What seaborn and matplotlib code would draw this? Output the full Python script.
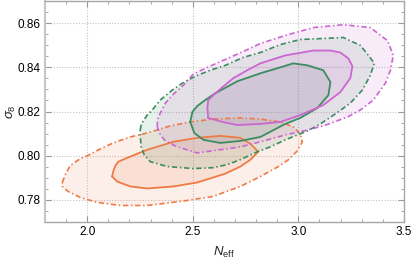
import numpy as np
import matplotlib
matplotlib.use("Agg")
import matplotlib.pyplot as plt
import seaborn as sns
from matplotlib.ticker import MultipleLocator

# contour vertices (N_eff, sigma_8)
orange95_x = [1.882, 1.896, 1.919, 1.967, 2.000, 2.062, 2.123, 2.204, 2.284, 2.393, 2.488, 2.597, 2.725, 2.820,
              2.915, 2.976, 3.009, 3.019, 2.995, 2.953, 2.905, 2.820, 2.725, 2.597, 2.441, 2.284, 2.156, 2.047,
              1.967, 1.910, 1.882]
orange95_y = [0.7879, 0.7915, 0.7955, 0.7987, 0.8000, 0.8031, 0.8058, 0.8085, 0.8103, 0.8135, 0.8153, 0.8166,
              0.8171, 0.8166, 0.8153, 0.8130, 0.8099, 0.8063, 0.8022, 0.7982, 0.7951, 0.7906, 0.7861, 0.7816,
              0.7793, 0.7775, 0.7775, 0.7789, 0.7811, 0.7838, 0.7861]
orange68_x = [2.118, 2.123, 2.133, 2.147, 2.190, 2.284, 2.408, 2.521, 2.630, 2.725, 2.773, 2.810, 2.773, 2.725,
              2.654, 2.521, 2.408, 2.284, 2.204, 2.142]
orange68_y = [0.7906, 0.7928, 0.7955, 0.7973, 0.7991, 0.8027, 0.8063, 0.8081, 0.8090, 0.8081, 0.8054, 0.8018,
              0.7982, 0.7951, 0.7919, 0.7879, 0.7861, 0.7852, 0.7861, 0.7883]

green95_x = [2.251, 2.256, 2.284, 2.308, 2.346, 2.403, 2.450, 2.512, 2.583, 2.654, 2.739, 2.820, 2.915, 3.009,
             3.104, 3.213, 3.294, 3.332, 3.360, 3.341, 3.303, 3.246, 3.175, 3.104, 3.043, 2.938, 2.867, 2.806,
             2.725, 2.664, 2.597, 2.502, 2.379, 2.299, 2.270, 2.256, 2.251]
green95_y = [0.8117, 0.8144, 0.8184, 0.8207, 0.8252, 0.8297, 0.8328, 0.8360, 0.8387, 0.8409, 0.8445, 0.8467,
             0.8503, 0.8526, 0.8530, 0.8535, 0.8499, 0.8454, 0.8418, 0.8364, 0.8297, 0.8238, 0.8189, 0.8144,
             0.8112, 0.8072, 0.8040, 0.8018, 0.7982, 0.7960, 0.7946, 0.7942, 0.7951, 0.7973, 0.8004, 0.8040,
             0.8085]
green68_x = [2.488, 2.498, 2.521, 2.559, 2.607, 2.711, 2.820, 2.915, 2.976, 3.043, 3.118, 3.152, 3.142, 3.090,
             3.009, 2.938, 2.820, 2.725, 2.630, 2.550, 2.507]
green68_y = [0.8153, 0.8198, 0.8225, 0.8252, 0.8283, 0.8337, 0.8373, 0.8400, 0.8418, 0.8409, 0.8387, 0.8333,
             0.8274, 0.8216, 0.8171, 0.8144, 0.8085, 0.8067, 0.8058, 0.8072, 0.8103]

magenta95_x = [2.332, 2.332, 2.346, 2.370, 2.403, 2.455, 2.502, 2.569, 2.664, 2.749, 2.820, 2.938, 3.071, 3.213,
               3.341, 3.422, 3.450, 3.436, 3.412, 3.355, 3.294, 3.232, 3.118, 3.024, 2.938, 2.820, 2.725, 2.630,
               2.521, 2.427, 2.370, 2.346]
magenta95_y = [0.8130, 0.8162, 0.8193, 0.8238, 0.8274, 0.8319, 0.8369, 0.8400, 0.8440, 0.8476, 0.8508, 0.8544,
               0.8580, 0.8593, 0.8580, 0.8521, 0.8454, 0.8387, 0.8328, 0.8252, 0.8207, 0.8175, 0.8135, 0.8112,
               0.8094, 0.8063, 0.8040, 0.8027, 0.8013, 0.8040, 0.8067, 0.8094]
magenta68_x = [2.573, 2.569, 2.573, 2.597, 2.640, 2.692, 2.758, 2.820, 2.938, 3.071, 3.152, 3.199, 3.237, 3.256,
               3.246, 3.199, 3.118, 3.009, 2.915, 2.820, 2.711, 2.640]
magenta68_y = [0.8171, 0.8216, 0.8252, 0.8274, 0.8310, 0.8351, 0.8387, 0.8418, 0.8454, 0.8476, 0.8476, 0.8467,
               0.8440, 0.8405, 0.8351, 0.8288, 0.8229, 0.8184, 0.8153, 0.8144, 0.8139, 0.8153]

x_ticks = [2.0, 2.5, 3.0, 3.5]
y_ticks = [0.78, 0.80, 0.82, 0.84, 0.86]

ORANGE = "#ee7b45"
GREEN = "#3b8c5f"
MAGENTA = "#cc66d0"
DASHDOT = (0, (3.2, 1.6, 0.9, 1.6))

sns.set_theme(style="ticks")
plt.rcParams['font.family'] = ['Liberation Sans', 'DejaVu Sans']
plt.rcParams['mathtext.fontset'] = 'custom'
plt.rcParams['mathtext.rm'] = 'Liberation Sans'
plt.rcParams['mathtext.it'] = 'Liberation Sans:italic'

fig, ax = plt.subplots(figsize=(4.13, 2.6), dpi=100)
fig.subplots_adjust(left=0.109, right=0.978, bottom=0.146, top=0.996)


def closed(v):
    return list(v) + [v[0]]


def contour(x95, y95, x68, y68, col):
    ax.fill(x95, y95, color=col, alpha=0.12, lw=0)
    ax.fill(x68, y68, color=col, alpha=0.12, lw=0)
    sns.lineplot(x=closed(x95), y=closed(y95), sort=False, estimator=None, color=col,
                 lw=1.2, linestyle=DASHDOT, ax=ax)
    sns.lineplot(x=closed(x68), y=closed(y68), sort=False, estimator=None, color=col,
                 lw=1.3, ax=ax)


contour(orange95_x, orange95_y, orange68_x, orange68_y, ORANGE)
contour(green95_x, green95_y, green68_x, green68_y, GREEN)
contour(magenta95_x, magenta95_y, magenta68_x, magenta68_y, MAGENTA)

ax.set_xlim(1.8, 3.5)
ax.set_ylim(0.77, 0.87)
ax.set_xticks(x_ticks)
ax.set_yticks(y_ticks)
ax.set_xticklabels([f"{t:.1f}" for t in x_ticks])
ax.set_yticklabels([f"{t:.2f}" for t in y_ticks])
ax.xaxis.set_minor_locator(MultipleLocator(0.1))
ax.yaxis.set_minor_locator(MultipleLocator(0.005))
ax.tick_params(which="both", direction="in", top=True, right=True, color="#9a9a9a",
               labelsize=8.5, labelcolor="black", pad=3)
ax.tick_params(which="major", length=4, width=0.8)
ax.tick_params(which="minor", length=2.3, width=0.6)
ax.grid(True, which="major", linestyle=(0, (1, 1.5)), color="#c4c4c4", lw=0.8)
ax.set_axisbelow(True)
for s in ax.spines.values():
    s.set_color("#a8a8a8")
    s.set_linewidth(1.0)
ax.spines["left"].set_color("#c8c8c8")
ax.spines["left"].set_linewidth(1.6)

ax.set_xlabel(r"$N_{\rm eff}$", fontsize=9.5, labelpad=5)
ax.set_ylabel(r"$\sigma_8$", fontsize=9.5, labelpad=0)

fig.savefig("out.png", dpi=100)
